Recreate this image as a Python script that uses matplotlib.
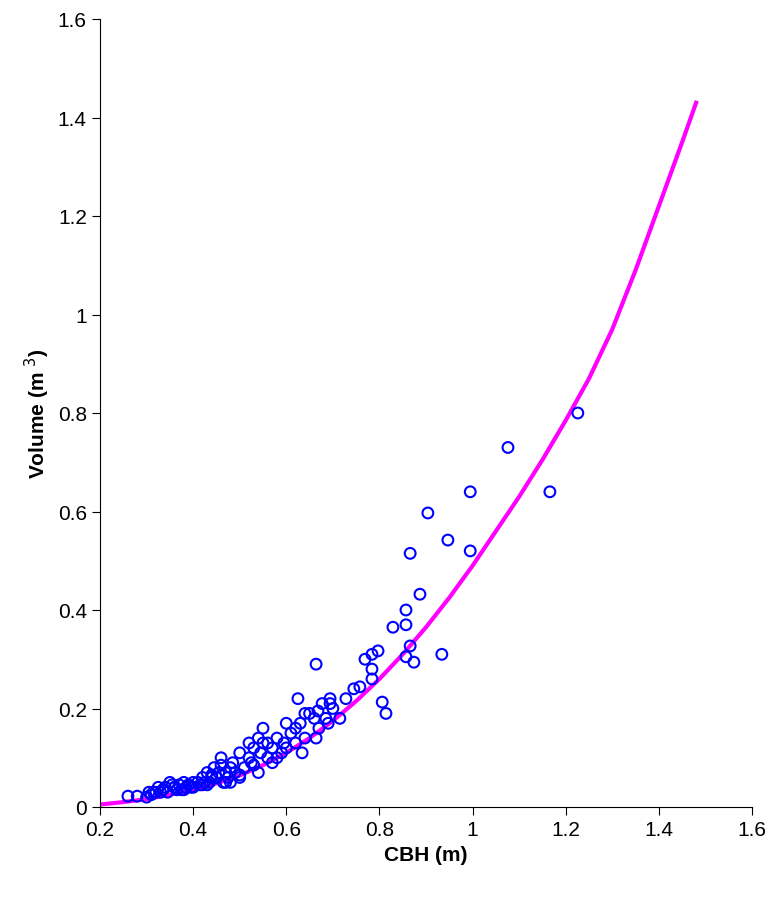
import matplotlib
matplotlib.use("Agg")
import matplotlib.pyplot as plt
plt.rcParams['font.family'] = ['Liberation Sans', 'DejaVu Sans']

curve_x = [0.2,0.25,0.3,0.35,0.4,0.45,0.5,0.55,0.6,0.65,0.7,0.75,0.8,0.85,0.9,0.95,1.0,1.05,1.1,1.15,1.2,1.25,1.3,1.35,1.4,1.45,1.48]
curve_y = [0.005,0.01,0.016,0.025,0.035,0.048,0.064,0.085,0.11,0.14,0.175,0.215,0.26,0.31,0.365,0.425,0.49,0.56,0.63,0.705,0.785,0.87,0.97,1.09,1.22,1.35,1.43]

pts_x = [1.226,1.076,1.166,0.995,0.904,0.947,0.866,0.995,0.887,0.857,0.857,0.829,0.866,0.934,0.857,0.874,
         0.797,0.784,0.769,0.784,0.784,0.664,0.806,0.814,0.758,0.745,0.728,0.715,0.694,0.694,0.685,0.677,
         0.668,0.664,0.625,0.63,0.634,0.66,0.65,0.64,0.62,0.61,0.6,0.595,0.59,0.58,0.57,0.56,0.55,0.55,
         0.545,0.54,0.53,0.525,0.52,0.51,0.50,0.50,0.49,0.485,0.48,0.475,0.47,0.465,0.46,0.455,0.45,0.445,
         0.44,0.435,0.43,0.425,0.42,0.415,0.41,0.40,0.395,0.39,0.385,0.38,0.375,0.37,0.365,0.36,0.355,
         0.35,0.345,0.34,0.335,0.33,0.325,0.32,0.315,0.31,0.305,0.30,0.28,0.26,0.56,0.58,0.60,0.62,0.64,
         0.67,0.69,0.70,0.52,0.54,0.46,0.48,0.50,0.44,0.42,0.40,0.38,0.36,0.57,0.53,0.47,0.43]
pts_y = [0.80,0.73,0.64,0.64,0.597,0.542,0.515,0.52,0.432,0.40,0.37,0.365,0.327,0.31,0.305,0.294,
         0.317,0.31,0.30,0.28,0.26,0.29,0.213,0.19,0.244,0.24,0.22,0.18,0.22,0.21,0.18,0.21,
         0.195,0.14,0.22,0.17,0.11,0.18,0.19,0.19,0.16,0.15,0.17,0.13,0.11,0.14,0.12,0.10,0.16,0.13,
         0.11,0.14,0.12,0.09,0.10,0.08,0.11,0.06,0.07,0.09,0.08,0.06,0.07,0.05,0.10,0.07,0.06,0.08,
         0.06,0.05,0.07,0.05,0.06,0.045,0.05,0.05,0.04,0.045,0.04,0.05,0.035,0.045,0.035,0.04,0.045,
         0.05,0.03,0.04,0.035,0.03,0.04,0.03,0.03,0.025,0.03,0.02,0.022,0.022,0.13,0.10,0.12,0.13,0.14,
         0.16,0.17,0.20,0.13,0.07,0.085,0.05,0.065,0.065,0.045,0.04,0.035,0.04,0.09,0.085,0.05,0.045]

fig = plt.figure(figsize=(7.82, 9.04), dpi=100)
ax = fig.add_axes([100/782, 96/904, 652/782, 788/904])
ax.plot(curve_x, curve_y, color="#ff00ff", lw=3, zorder=2)
ax.scatter(pts_x, pts_y, s=60, facecolors="none", edgecolors="#0000ff", linewidths=1.5, zorder=3)
ax.set_xlim(0.2, 1.6)
ax.set_ylim(0, 1.6)
ax.set_xticks([0.2,0.4,0.6,0.8,1.0,1.2,1.4,1.6])
ax.set_xticklabels(["0.2","0.4","0.6","0.8","1","1.2","1.4","1.6"])
ax.set_yticks([0,0.2,0.4,0.6,0.8,1.0,1.2,1.4,1.6])
ax.set_yticklabels(["0","0.2","0.4","0.6","0.8","1","1.2","1.4","1.6"])
ax.tick_params(labelsize=15, direction="out", length=6)
for s in ["top","right"]:
    ax.spines[s].set_visible(False)
ax.set_xlabel("CBH (m)", fontsize=15, fontweight="bold")
ax.set_ylabel("Volume (m $^{3}$)", fontsize=15, fontweight="bold")
fig.savefig("out.png", dpi=100)
